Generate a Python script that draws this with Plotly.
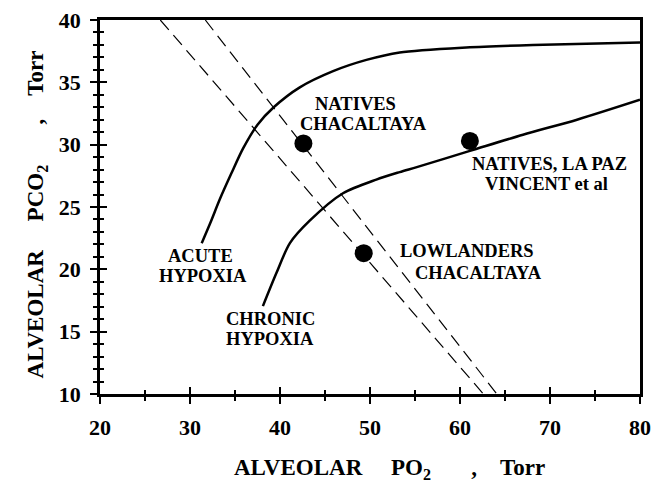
import plotly.graph_objects as go

# Curve and point data (alveolar PO2 vs PCO2, Torr)
acute_po2 = [31.3, 32.3, 33.3, 34.6, 35.9, 37.5, 39.3, 42.2, 45.9, 49.6, 53.3, 60.7, 68.1, 80.0]
acute_pco2 = [22.1, 23.8, 25.6, 27.7, 29.7, 31.6, 33.0, 34.6, 35.9, 36.8, 37.4, 37.8, 38.0, 38.2]

chronic_po2 = [38.1, 39.6, 41.1, 43.3, 47.0, 50.7, 53.3, 55.2, 61.1, 67.0, 73.0, 80.0]
chronic_pco2 = [17.05, 19.7, 22.1, 23.9, 26.1, 27.2, 27.8, 28.2, 29.5, 30.8, 32.0, 33.6]

# two dashed iso-lines (end points)
iso1_po2 = [26.7, 62.6]
iso1_pco2 = [40.0, 10.0]
iso2_po2 = [31.7, 64.1]
iso2_pco2 = [40.0, 10.0]

point_po2 = [42.6, 61.1, 49.3]
point_pco2 = [30.1, 30.3, 21.3]

x_range = [20, 80]
y_range = [10, 40]

FONT = "Liberation Serif, Times New Roman, serif"
BLACK = "#000000"
SP = "&nbsp;"

fig = go.Figure()

for xs, ys in [(iso1_po2, iso1_pco2), (iso2_po2, iso2_pco2)]:
    fig.add_trace(go.Scatter(
        x=xs, y=ys, mode="lines",
        line=dict(color=BLACK, width=1.2, dash="13px,7px"),
        showlegend=False, hoverinfo="skip"
    ))

for xs, ys in [(acute_po2, acute_pco2), (chronic_po2, chronic_pco2)]:
    fig.add_trace(go.Scatter(
        x=xs, y=ys, mode="lines",
        line=dict(color=BLACK, width=2.5, shape="spline", smoothing=0.8),
        showlegend=False, hoverinfo="skip"
    ))

fig.add_trace(go.Scatter(
    x=point_po2, y=point_pco2, mode="markers",
    marker=dict(size=18, color=BLACK),
    showlegend=False, hoverinfo="skip"
))

# empty trace so the overlaid axes (inner half of the crossing ticks) get drawn
fig.add_trace(go.Scatter(x=[], y=[], xaxis="x2", yaxis="y2", showlegend=False))

# text labels: (text, x, y) left edge in data units
labels = [
    ("NATIVES", 43.67, 33.26),
    ("CHACALTAYA", 42.0, 31.66),
    ("NATIVES, LA PAZ", 61.1, 28.48),
    ("VINCENT et al", 62.56, 26.88),
    ("LOWLANDERS", 53.1, 21.48),
    ("CHACALTAYA", 54.74, 19.74),
    ("ACUTE", 27.33, 21.1),
    ("HYPOXIA", 26.33, 19.49),
    ("CHRONIC", 33.78, 16.02),
    ("HYPOXIA", 33.78, 14.44),
]
for text, lx, ly in labels:
    fig.add_annotation(
        x=lx, y=ly, text=f"<b>{text}</b>", showarrow=False,
        xanchor="left", yanchor="middle",
        font=dict(family=FONT, size=18.5, color=BLACK)
    )

# axis titles
fig.add_annotation(
    x=0.537, y=-0.2, xref="paper", yref="paper",
    text=f"<b>ALVEOLAR{SP*5}PO<sub>2</sub>{SP*7},{SP*4}Torr</b>", showarrow=False,
    xanchor="center", yanchor="middle",
    font=dict(family=FONT, size=23, color=BLACK)
)
fig.add_annotation(
    x=-0.115, y=0.48, xref="paper", yref="paper",
    text=f"<b>ALVEOLAR{SP*5}PCO<sub>2</sub>{SP*7},{SP*4}Torr</b>", showarrow=False, textangle=-90,
    xanchor="center", yanchor="middle",
    font=dict(family=FONT, size=23, color=BLACK)
)

tick_font = dict(family=FONT, size=22, color=BLACK, weight="bold")

fig.update_layout(
    width=653, height=483,
    margin=dict(l=100, r=13, t=20, b=89, autoexpand=False),
    paper_bgcolor="white",
    plot_bgcolor="white",
    xaxis=dict(
        range=x_range, dtick=10, showgrid=False, zeroline=False, automargin=False,
        showline=True, linecolor=BLACK, linewidth=2.5, mirror=True,
        ticks="outside", ticklen=7, tickwidth=2, tickcolor=BLACK,
        minor=dict(dtick=5, ticks="outside", ticklen=4, tickwidth=2, tickcolor=BLACK, showgrid=False),
        tickfont=tick_font, ticklabelstandoff=5
    ),
    yaxis=dict(
        range=y_range, dtick=5, showgrid=False, zeroline=False, automargin=False,
        showline=True, linecolor=BLACK, linewidth=2.5, mirror=True,
        ticks="outside", ticklen=7, tickwidth=2, tickcolor=BLACK,
        minor=dict(dtick=1, ticks="outside", ticklen=4, tickwidth=2, tickcolor=BLACK, showgrid=False),
        tickfont=tick_font, ticklabelstandoff=5
    ),
    xaxis2=dict(
        range=x_range, overlaying="x", anchor="y2", dtick=10, automargin=False,
        showgrid=False, zeroline=False, showline=False, showticklabels=False,
        ticks="inside", ticklen=7, tickwidth=2, tickcolor=BLACK,
        minor=dict(dtick=5, ticks="inside", ticklen=4, tickwidth=2, tickcolor=BLACK, showgrid=False)
    ),
    yaxis2=dict(
        range=y_range, overlaying="y", anchor="x2", dtick=5, automargin=False,
        showgrid=False, zeroline=False, showline=False, showticklabels=False,
        ticks="inside", ticklen=7, tickwidth=2, tickcolor=BLACK,
        minor=dict(dtick=1, ticks="inside", ticklen=4, tickwidth=2, tickcolor=BLACK, showgrid=False)
    ),
)

fig.write_html("out.html", config={"displayModeBar": False},
               post_script="document.body.style.margin='0';")
